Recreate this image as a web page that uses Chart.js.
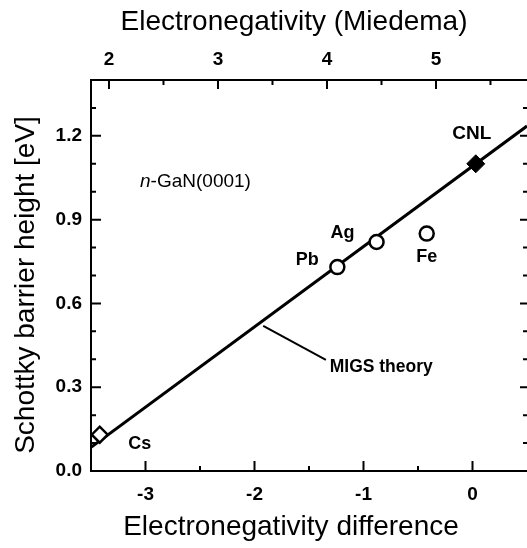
<!DOCTYPE html>
<html>
<head>
<meta charset="utf-8">
<script src="https://cdn.jsdelivr.net/npm/chart.js@4/dist/chart.umd.min.js"></script>
<style>
  html, body { margin: 0; padding: 0; background: #fff; overflow: hidden; }
  #wrap { position: relative; width: 527px; height: 548px; }
  canvas { display: block; }
</style>
</head>
<body>
<div id="wrap"><canvas id="c" width="527" height="548"></canvas></div>
<script>
// Schottky barrier heights of metal contacts on n-GaN(0001)
const metals = ['Pb', 'Ag', 'Fe'];
const metalDiff = [-1.24, -0.88, -0.42];
const metalBarrier = [0.73, 0.82, 0.85];

const csLabel = ['Cs'];
const csDiff = [-3.42];
const csBarrier = [0.13];

// charge neutrality level
const cnlLabel = ['CNL'];
const cnlDiff = [0.03];
const cnlBarrier = [1.10];

// MIGS theory line, end points
const migsDiff = [-3.5, 0.5];
const migsBarrier = [0.085, 1.235];

// axis ticks
const diffTicks = [-3, -2, -1, 0];
const diffMinor = [-2.5, -1.5, -0.5];
const miedemaTicks = [2, 3, 4, 5];
const miedemaMinor = [2.5, 3.5, 4.5, 5.5];
const barrierTicks = [0.0, 0.3, 0.6, 0.9, 1.2];
const barrierMinor = [0.1, 0.2, 0.4, 0.5, 0.7, 0.8, 1.0, 1.1, 1.3];

// Miedema electronegativity = electronegativity difference + offset
const MIEDEMA_OFFSET = 5.335;

const FONT = '"Liberation Sans", Arial, Helvetica, sans-serif';
const INK = '#000';

const toPts = (xs, ys) => xs.map((x, i) => ({ x: x, y: ys[i] }));

// label placement (pixel offsets from each marker)
const labelOffsets = {
  Pb: [-30, -7], Ag: [-34, -9], Fe: [0, 23], Cs: [40, 9], CNL: [-4, -30]
};

const framePlugin = {
  id: 'frame',
  beforeDatasetsDraw(chart) {
    const { ctx, chartArea: a, scales } = chart;
    const sx = scales.x, st = scales.xTop, sy = scales.y;
    ctx.save();
    ctx.strokeStyle = INK;
    ctx.lineCap = 'butt';
    // axis lines
    ctx.lineWidth = 2;
    ctx.beginPath();
    ctx.moveTo(a.left, a.top); ctx.lineTo(a.right, a.top);
    ctx.moveTo(a.left, a.top - 1); ctx.lineTo(a.left, a.bottom);
    ctx.lineTo(a.right, a.bottom);
    ctx.stroke();
    // inward tick marks
    const tick = (x1, y1, x2, y2) => { ctx.moveTo(x1, y1); ctx.lineTo(x2, y2); };
    ctx.beginPath();
    diffTicks.forEach(v => { const p = sx.getPixelForValue(v); tick(p, a.bottom, p, a.bottom - 10); });
    diffMinor.forEach(v => { const p = sx.getPixelForValue(v); tick(p, a.bottom, p, a.bottom - 5); });
    miedemaTicks.forEach(v => { const p = st.getPixelForValue(v); tick(p, a.top, p, a.top + 9); });
    miedemaMinor.forEach(v => { const p = st.getPixelForValue(v); tick(p, a.top, p, a.top + 5); });
    barrierTicks.forEach(v => {
      const p = sy.getPixelForValue(v);
      tick(a.left, p, a.left + 10, p);
      tick(a.right, p, a.right - 7, p);
    });
    barrierMinor.forEach(v => {
      const p = sy.getPixelForValue(v);
      tick(a.left, p, a.left + 5, p);
      tick(a.right, p, a.right - 4, p);
    });
    ctx.stroke();
    ctx.restore();
  },
  afterDraw(chart) {
    const { ctx, scales } = chart;
    const sx = scales.x, sy = scales.y;
    ctx.save();
    ctx.fillStyle = INK;
    ctx.strokeStyle = INK;

    // axis titles
    ctx.textAlign = 'center';
    ctx.textBaseline = 'middle';
    ctx.font = '28px ' + FONT;
    ctx.fillText('Electronegativity (Miedema)', 294, 22);
    ctx.fillText('Electronegativity difference', 291, 527);
    ctx.save();
    ctx.translate(26, 285);
    ctx.rotate(-Math.PI / 2);
    ctx.fillText('Schottky barrier height [eV]', 0, 0);
    ctx.restore();

    // sample label with italic n
    ctx.textAlign = 'left';
    ctx.font = 'italic 19px ' + FONT;
    const lx = sx.getPixelForValue(-3.05), ly = sy.getPixelForValue(1.035);
    ctx.fillText('n', lx, ly);
    const nw = ctx.measureText('n').width;
    ctx.font = '19px ' + FONT;
    ctx.fillText('-GaN(0001)', lx + nw, ly);

    // marker labels
    ctx.textAlign = 'center';
    const put = (names, xs, ys, size) => {
      ctx.font = 'bold ' + size + 'px ' + FONT;
      names.forEach((n, i) => {
        const o = labelOffsets[n];
        ctx.fillText(n, sx.getPixelForValue(xs[i]) + o[0], sy.getPixelForValue(ys[i]) + o[1]);
      });
    };
    put(metals, metalDiff, metalBarrier, 18);
    put(csLabel, csDiff, csBarrier, 18);
    put(cnlLabel, cnlDiff, cnlBarrier, 19);

    // MIGS theory annotation with leader line
    ctx.lineWidth = 2;
    ctx.beginPath();
    ctx.moveTo(sx.getPixelForValue(-1.92), sy.getPixelForValue(0.52));
    ctx.lineTo(sx.getPixelForValue(-1.345), sy.getPixelForValue(0.398));
    ctx.stroke();
    ctx.textAlign = 'left';
    ctx.font = 'bold 17.5px ' + FONT;
    ctx.fillText('MIGS theory', sx.getPixelForValue(-1.31), sy.getPixelForValue(0.37));
    ctx.restore();
  }
};

const tickFont = { family: FONT, size: 19, weight: 'bold' };
const setTicks = arr => scale => { scale.ticks = arr.map(v => ({ value: v })); };
// fixed axis band sizes; no extra label overhang padding
const fitH = h => s => { s.height = h; s.paddingLeft = 0; s.paddingRight = 0; };
const fitV = w => s => { s.width = w; s.paddingTop = 0; s.paddingBottom = 0; };

new Chart(document.getElementById('c'), {
  type: 'scatter',
  data: {
    datasets: [
      {
        label: 'MIGS theory',
        type: 'line',
        data: toPts(migsDiff, migsBarrier),
        borderColor: INK,
        borderWidth: 3,
        pointRadius: 0,
        fill: false,
        order: 2
      },
      {
        label: 'metals',
        data: toPts(metalDiff, metalBarrier),
        pointStyle: 'circle',
        pointRadius: 7,
        borderWidth: 2.5,
        borderColor: INK,
        backgroundColor: '#fff',
        order: 1
      },
      {
        label: 'Cs',
        data: toPts(csDiff, csBarrier),
        pointStyle: 'rectRot',
        pointRadius: 8,
        borderWidth: 2.5,
        borderColor: INK,
        backgroundColor: '#fff',
        order: 1
      },
      {
        label: 'CNL',
        data: toPts(cnlDiff, cnlBarrier),
        pointStyle: 'rectRot',
        pointRadius: 9,
        borderWidth: 1,
        borderColor: INK,
        backgroundColor: INK,
        order: 0
      }
    ]
  },
  options: {
    responsive: false,
    animation: false,
    devicePixelRatio: 1,
    layout: { padding: 0, autoPadding: false },
    plugins: { legend: { display: false }, tooltip: { enabled: false } },
    scales: {
      x: {
        type: 'linear', position: 'bottom', min: -3.5, max: 0.5,
        afterBuildTicks: setTicks(diffTicks),
        afterFit: fitH(77),
        grid: { display: false, drawTicks: false },
        border: { display: false },
        ticks: { font: tickFont, color: INK, padding: 12, callback: v => String(v) }
      },
      xTop: {
        type: 'linear', position: 'top',
        min: -3.5 + MIEDEMA_OFFSET, max: 0.5 + MIEDEMA_OFFSET,
        afterBuildTicks: setTicks(miedemaTicks),
        afterFit: fitH(80),
        grid: { display: false, drawTicks: false },
        border: { display: false },
        ticks: { font: tickFont, color: INK, padding: 9, callback: v => String(v) }
      },
      y: {
        type: 'linear', position: 'left', min: 0, max: 1.4,
        afterBuildTicks: setTicks(barrierTicks),
        afterFit: fitV(91),
        grid: { display: false, drawTicks: false },
        border: { display: false },
        ticks: { font: tickFont, color: INK, padding: 9, callback: v => v.toFixed(1) }
      }
    }
  },
  plugins: [framePlugin]
});
</script>
</body>
</html>
